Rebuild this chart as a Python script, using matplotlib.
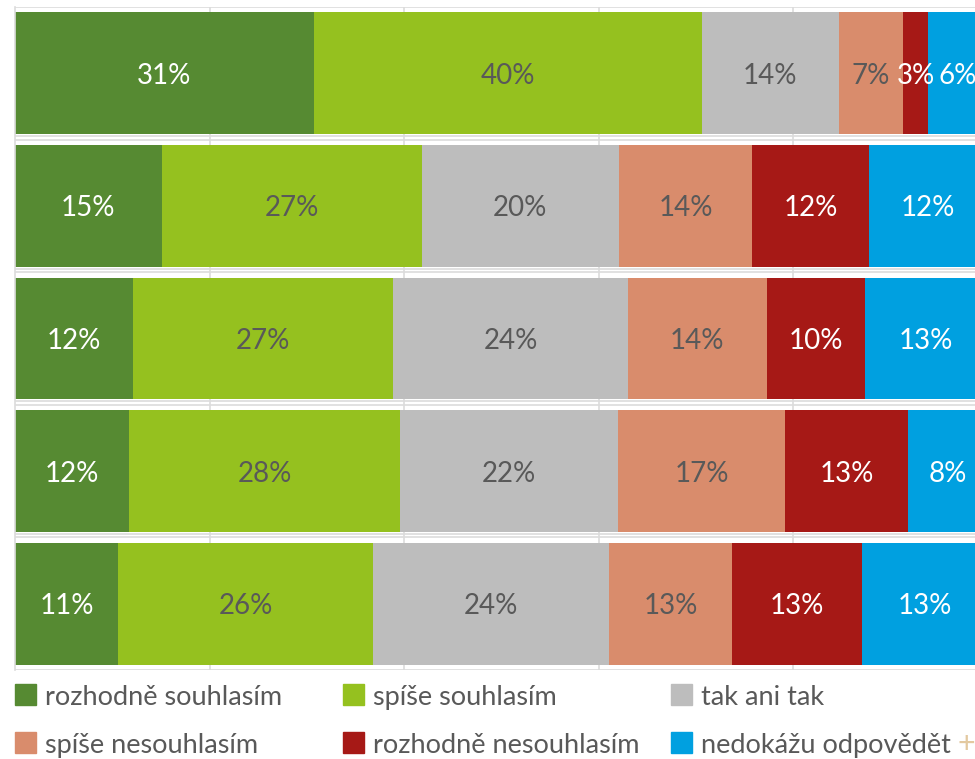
import matplotlib
matplotlib.use("Agg")
import matplotlib.pyplot as plt
from matplotlib.patches import Rectangle
import numpy as np

plt.rcParams["font.family"] = ["Lato", "DejaVu Sans"]

# ---- data (percent shares per row, top to bottom) ----
categories = ["rozhodně souhlasím", "spíše souhlasím", "tak ani tak",
              "spíše nesouhlasím", "rozhodně nesouhlasím", "nedokážu odpovědět"]
colors = ["#568A32", "#95C11F", "#BDBDBD", "#D98C6C", "#A61916", "#00A0E0"]
text_colors = ["white", "#595959", "#595959", "#595959", "white", "white"]

rozhodne_souhlasim = [30.7, 15.1, 12.1, 11.7, 10.6]
spise_souhlasim = [39.9, 26.7, 26.8, 27.9, 26.2]
tak_ani_tak = [14.1, 20.3, 24.1, 22.4, 24.3]
spise_nesouhlasim = [6.6, 13.7, 14.3, 17.2, 12.6]
rozhodne_nesouhlasim = [2.6, 12.0, 10.1, 12.6, 13.4]
nedokazu = [6.1, 12.2, 12.6, 8.2, 12.9]

series = [rozhodne_souhlasim, spise_souhlasim, tak_ani_tak,
          spise_nesouhlasim, rozhodne_nesouhlasim, nedokazu]

W, H = 975, 759
fig = plt.figure(figsize=(W / 100, H / 100), dpi=100)
ax = fig.add_axes([15 / W, (H - 670) / H, (W - 15) / W, 663 / H])

y = np.arange(len(rozhodne_souhlasim))
left = np.zeros(len(y))
bar_h = 0.92
for vals, col, tcol in zip(series, colors, text_colors):
    vals = np.array(vals)
    ax.barh(y, vals, left=left, height=bar_h, color=col, edgecolor="none", zorder=2)
    for yi, l, v in zip(y, left, vals):
        ax.text(l + v / 2, yi, f"{v:.0f}%", ha="center", va="center_baseline",
                color=tcol, fontsize=20, zorder=3)
    left += vals

grid_c = "#dcdcdc"
for gx in [20, 40, 60, 80]:
    ax.axvline(gx, color=grid_c, lw=1.2, zorder=1)
for k in range(len(y) + 1):
    ax.axhline(k - 0.5, color=grid_c, lw=1.2, zorder=1)
for yi in y[:-1]:
    ax.axhline(yi + 0.475, color=grid_c, lw=1.2, zorder=1)

ax.set_xlim(0, (W - 15) / 9.725)
ax.set_ylim(len(y) - 0.5, -0.5)
ax.set_xticks([])
ax.set_yticks([])
for side in ["top", "right", "bottom"]:
    ax.spines[side].set_visible(False)
ax.spines["left"].set_color(grid_c)
ax.spines["left"].set_linewidth(1.2)

# ---- legend, drawn by hand in pixel positions ----
col_x = [15, 343, 671]
row_y = [695, 743]
for i, (name, col) in enumerate(zip(categories, colors)):
    cx = col_x[i % 3]
    cy = row_y[i // 3]
    fig.add_artist(Rectangle((cx / W, (H - cy - 10) / H), 21 / W, 21 / H,
                             transform=fig.transFigure, color=col))
    fig.text((cx + 30) / W, (H - cy) / H, name, ha="left", va="center_baseline",
             fontsize=19.5, color="#595959")

fig.text(966 / W, (H - 744) / H, "+", ha="center", va="center",
         fontsize=22, color="#E3C9A0")

fig.savefig("out.png", dpi=100)
